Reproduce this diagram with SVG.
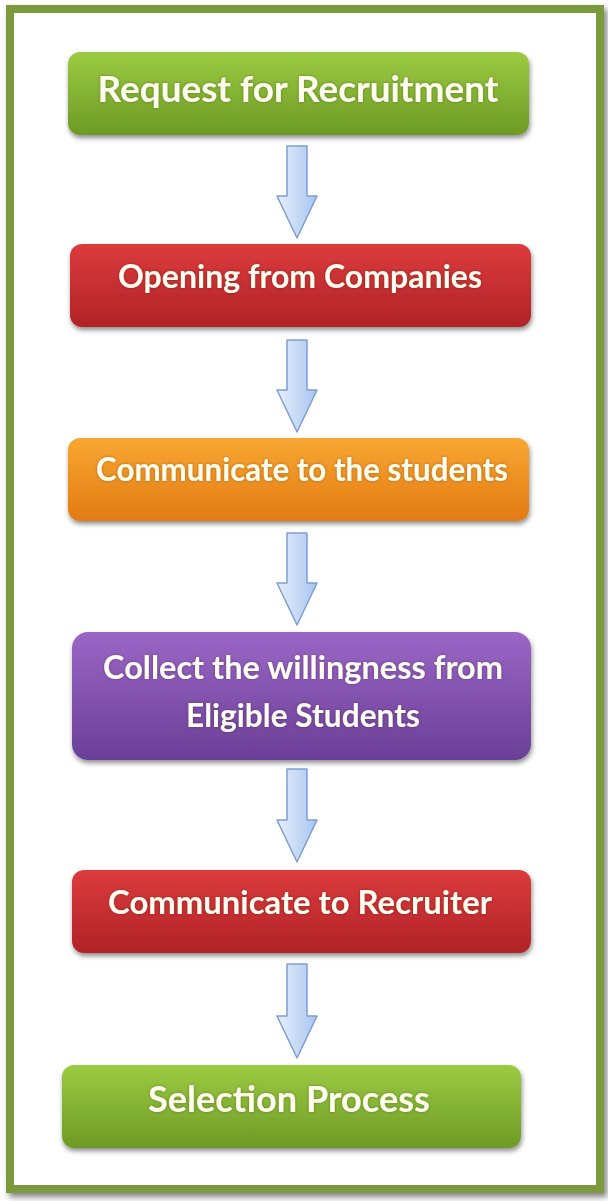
<svg xmlns="http://www.w3.org/2000/svg" width="608" height="1201" viewBox="0 0 608 1201">
<defs>
<linearGradient id="gGreen" x1="0" y1="0" x2="0" y2="1"><stop offset="0" stop-color="#9ccb42"/><stop offset="1" stop-color="#6d9a25"/></linearGradient>
<linearGradient id="gRed" x1="0" y1="0" x2="0" y2="1"><stop offset="0" stop-color="#dc3b3d"/><stop offset="1" stop-color="#b02326"/></linearGradient>
<linearGradient id="gOrange" x1="0" y1="0" x2="0" y2="1"><stop offset="0" stop-color="#f8a733"/><stop offset="1" stop-color="#e27a12"/></linearGradient>
<linearGradient id="gPurple" x1="0" y1="0" x2="0" y2="1"><stop offset="0" stop-color="#9b66c6"/><stop offset="1" stop-color="#6a3f96"/></linearGradient>
<linearGradient id="gArrow" x1="0" y1="0" x2="1" y2="0"><stop offset="0" stop-color="#e6effc"/><stop offset="1" stop-color="#a9c5f0"/></linearGradient>
<filter id="sh" x="-10%" y="-20%" width="120%" height="150%"><feDropShadow dx="1" dy="3" stdDeviation="2.5" flood-color="#000" flood-opacity="0.45"/></filter>
<filter id="fsh" x="-5%" y="-5%" width="110%" height="110%"><feDropShadow dx="3" dy="4" stdDeviation="3" flood-color="#000" flood-opacity="0.5"/></filter>
<filter id="glow" x="-10%" y="-30%" width="120%" height="160%"><feGaussianBlur in="SourceAlpha" stdDeviation="1.5" result="b"/><feFlood flood-color="#000" flood-opacity="0.3"/><feComposite in2="b" operator="in"/><feMerge><feMergeNode/><feMergeNode in="SourceGraphic"/></feMerge></filter>
</defs>
<style>
.box{stroke:none;filter:url(#sh)}
.t{font-family:Lato,"Open Sans","Liberation Sans",sans-serif;font-weight:bold;fill:#fffdf0;text-anchor:middle;filter:url(#glow)}
.t26{font-size:32px}
.t30{font-size:37px}
.arrow{fill:url(#gArrow);stroke:#7e9ed2;stroke-width:1.5;stroke-linejoin:round}
</style>
<rect x="0" y="0" width="608" height="1201" fill="#ffffff"/>
<rect x="10" y="9" width="590" height="1180" fill="#ffffff" stroke="#7b9a3e" stroke-width="8" filter="url(#fsh)"/>
<rect x="10" y="9" width="590" height="1180" fill="#ffffff" stroke="#7b9a3e" stroke-width="8"/>

<g id="connectors">
<path class="arrow" d="M287,146 H307 V196 H317 L297,238 L277,196 H287 Z"/>
<path class="arrow" d="M287,340 H307 V390 H317 L297,432 L277,390 H287 Z"/>
<path class="arrow" d="M287,533 H307 V583 H317 L297,625 L277,583 H287 Z"/>
<path class="arrow" d="M287,769 H307 V820 H317 L297,862 L277,820 H287 Z"/>
<path class="arrow" d="M287,964 H307 V1016 H317 L297,1058 L277,1016 H287 Z"/>
</g>

<g id="node1">
<rect class="box" x="68" y="52" width="461" height="83" rx="12" fill="url(#gGreen)"/>
<text class="t t30" x="298" y="102" textLength="401" lengthAdjust="spacingAndGlyphs">Request for Recruitment</text>
</g>
<g id="node2">
<rect class="box" x="70" y="244" width="461" height="83" rx="12" fill="url(#gRed)"/>
<text class="t t26" x="300" y="288" textLength="364" lengthAdjust="spacingAndGlyphs">Opening from Companies</text>
</g>
<g id="node3">
<rect class="box" x="68" y="438" width="461" height="83" rx="12" fill="url(#gOrange)"/>
<text class="t t26" x="302" y="481" textLength="412" lengthAdjust="spacingAndGlyphs">Communicate to the students</text>
</g>
<g id="node4">
<rect class="box" x="72" y="632" width="459" height="128" rx="16" fill="url(#gPurple)"/>
<text class="t t26" x="303" y="679" textLength="400" lengthAdjust="spacingAndGlyphs">Collect the willingness from</text>
<text class="t t26" x="303" y="727" textLength="234" lengthAdjust="spacingAndGlyphs">Eligible Students</text>
</g>
<g id="node5">
<rect class="box" x="72" y="870" width="459" height="83" rx="12" fill="url(#gRed)"/>
<text class="t t26" x="300" y="914" textLength="384" lengthAdjust="spacingAndGlyphs">Communicate to Recruiter</text>
</g>
<g id="node6">
<rect class="box" x="62" y="1065" width="459" height="83" rx="12" fill="url(#gGreen)"/>
<text class="t t30" x="289" y="1112" textLength="282" lengthAdjust="spacingAndGlyphs">Selection Process</text>
</g>
</svg>
